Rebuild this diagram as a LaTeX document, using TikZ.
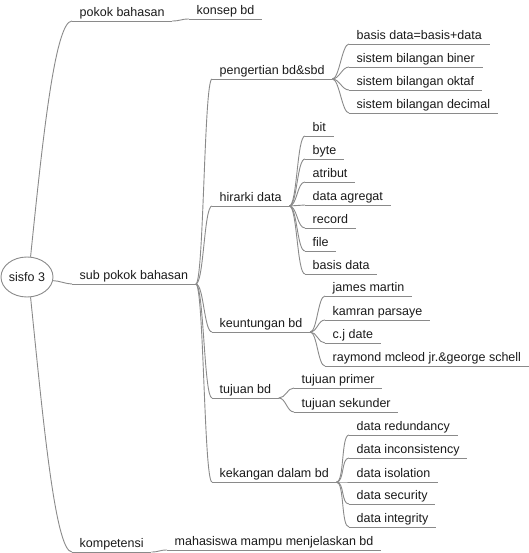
\documentclass[tikz,border=0pt]{standalone}
\usepackage{fontspec}
\setmainfont{Liberation Sans}
\usepackage{xcolor}
\usepackage{tikz}
\usetikzlibrary{shapes.geometric, calc}
\definecolor{lc}{HTML}{8A8A8A}
\definecolor{tx}{HTML}{1A1A1A}

\begin{document}
\begin{tikzpicture}[x=1pt, y=-1pt, font=\fontsize{12.5}{14}\selectfont, text=tx,
  ln/.style={draw=lc, line width=0.9pt},
  it/.style={anchor=south west, inner xsep=7.5pt, inner ysep=0pt, text height=9pt, text depth=4pt,
    append after command={(\tikzlastnode.south west) edge[ln] (\tikzlastnode.south east)}},
  br/.style={ln, to path={.. controls ($(\tikztostart)+(#1,0)$) and ($(\tikztotarget)+(-#1,0)$) .. (\tikztotarget)}},
  br/.default=8]
  \useasboundingbox (0,0) rectangle (528,553);
  % root
  \node[ellipse, draw=lc, line width=0.9pt, minimum width=52pt, minimum height=40pt, inner sep=0pt] (root) at (27,277) {sisfo 3};
  % level 1
  \node[it] (pb) at (72,21) {pokok bahasan};
  \node[it] (kb) at (189,19) {konsep bd};
  \node[it] (spb) at (72,284) {sub pokok bahasan};
  \node[it] (kp) at (72,552) {kompetensi};
  \node[it] (mh) at (167,550) {mahasiswa mampu menjelaskan bd};
  % level 2
  \node[it] (pg) at (212,79) {pengertian bd\&sbd};
  \node[it] (hd) at (212,206) {hirarki data};
  \node[it] (kt) at (212,332) {keuntungan bd};
  \node[it] (tj) at (212,398) {tujuan bd};
  \node[it] (kk) at (212,482) {kekangan dalam bd};
  % pengertian
  \node[it] (pg1) at (349,44) {basis data=basis+data};
  \node[it] (pg2) at (349,67) {sistem bilangan biner};
  \node[it] (pg3) at (349,90) {sistem bilangan oktaf};
  \node[it] (pg4) at (349,113) {sistem bilangan decimal};
  % hirarki
  \node[it] (hd1) at (305,136) {bit};
  \node[it] (hd2) at (305,159) {byte};
  \node[it] (hd3) at (305,182) {atribut};
  \node[it] (hd4) at (305,205) {data agregat};
  \node[it] (hd5) at (305,228) {record};
  \node[it] (hd6) at (305,251) {file};
  \node[it] (hd7) at (305,274) {basis data};
  % keuntungan
  \node[it] (kt1) at (325,296) {james martin};
  \node[it] (kt2) at (325,320) {kamran parsaye};
  \node[it] (kt3) at (325,343) {c.j date};
  \node[it] (kt4) at (325,366) {raymond mcleod jr.\&george schell};
  % tujuan
  \node[it] (tj1) at (294,388) {tujuan primer};
  \node[it] (tj2) at (294,412) {tujuan sekunder};
  % kekangan
  \node[it] (kk1) at (349,435) {data redundancy};
  \node[it] (kk2) at (349,458) {data inconsistency};
  \node[it] (kk3) at (349,482) {data isolation};
  \node[it] (kk4) at (349,504) {data security};
  \node[it] (kk5) at (349,527) {data integrity};
  % connectors
  \draw[ln] (root.80) .. controls ($(root.80)+(12,-117)$) and ($(pb.south west)+(-17,0)$) .. (pb.south west);
  \draw[ln] (root.-80) .. controls ($(root.-80)+(12,117)$) and ($(kp.south west)+(-17,0)$) .. (kp.south west);
  \draw[br=6] (root.-8) to (spb.south west);
  \draw[br] (pb.south east) to (kb.south west); \draw[br] (kp.south east) to (mh.south west);
  \foreach \c in {pg,hd,kt,tj,kk} \draw[br] (spb.south east) to (\c.south west);
  \foreach \c in {pg1,pg2,pg3,pg4} \draw[br=7] (pg.south east) to (\c.south west);
  \foreach \c in {hd1,hd2,hd3,hd4,hd5,hd6,hd7} \draw[br] (hd.south east) to (\c.south west);
  \foreach \c in {kt1,kt2,kt3,kt4} \draw[br=7] (kt.south east) to (\c.south west);
  \foreach \c in {tj1,tj2} \draw[br=7] (tj.south east) to (\c.south west);
  \foreach \c in {kk1,kk2,kk3,kk4,kk5} \draw[br] (kk.south east) to (\c.south west);
\end{tikzpicture}
\end{document}
